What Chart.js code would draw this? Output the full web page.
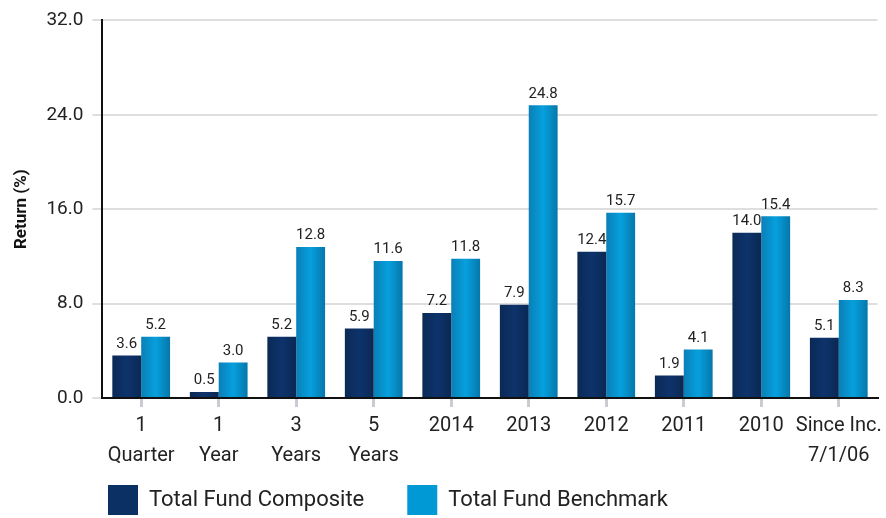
<!DOCTYPE html>
<html>
<head>
<meta charset="utf-8">
<script src="https://cdn.jsdelivr.net/npm/chart.js@4"></script>
<style>
  body { margin: 0; background: #fff; }
  #wrap { width: 886px; height: 518px; }
</style>
</head>
<body>
<div id="wrap"><canvas id="barChart"></canvas></div>
<script>
// categories + series
var labels = [['1','Quarter'], ['1','Year'], ['3','Years'], ['5','Years'], '2014', '2013', '2012', '2011', '2010', ['Since Inc.','7/1/06']]
var composite = [3.6, 0.5, 5.2, 5.9, 7.2, 7.9, 12.4, 1.9, 14.0, 5.1]
var benchmark = [5.2, 3.0, 12.8, 11.6, 11.8, 24.8, 15.7, 4.1, 15.4, 8.3]
var yTicks = [0, 8, 16, 24, 32]

var solid = ["#0b3164", "#0099d6"]
var stops = [["#0a2955", "#0e336c", "#0a2853"], ["#0a7fb6", "#06a0de", "#0677aa"]]

// each bar gets its own horizontal gradient
var barShade = {
  id: 'barShade',
  beforeDatasetsDraw: function(chart) {
    var ctx = chart.ctx
    chart.data.datasets.forEach(function(ds, di) {
      chart.getDatasetMeta(di).data.forEach(function(el) {
        var x0 = el.x - el.width / 2, x1 = el.x + el.width / 2
        var g = ctx.createLinearGradient(x0, 0, x1, 0)
        g.addColorStop(0, stops[di][0])
        g.addColorStop(0.5, stops[di][1])
        g.addColorStop(1, stops[di][2])
        el.options = Object.assign({}, el.options, { backgroundColor: g })
      })
    })
  }
}

// value labels over the bars
var barValues = {
  id: 'barValues',
  afterDatasetsDraw: function(chart) {
    var ctx = chart.ctx
    ctx.save()
    ctx.font = '15px Roboto'
    ctx.fillStyle = '#222'
    ctx.textAlign = 'center'
    ctx.textBaseline = 'bottom'
    chart.data.datasets.forEach(function(ds, di) {
      chart.getDatasetMeta(di).data.forEach(function(el, i) {
        ctx.fillText(ds.data[i].toFixed(1), el.x, el.y - 4)
      })
    })
    ctx.restore()
  }
}

// legend: keep wide gaps between items but a short box, shifted right
var legendPlace = {
  id: 'legendPlace',
  afterInit: function(chart) {
    var leg = chart.legend, fit = leg.fit
    leg.fit = function() { fit.call(this); this.height = 41 }
  },
  afterLayout: function(chart) {
    var leg = chart.legend, pad = leg.options.labels.padding
    leg.left = 108 - pad
    leg.top = 485 - pad
  }
}

var ctxB = document.getElementById("barChart").getContext('2d');
var myBarChart = new Chart(ctxB, {
  type: 'bar',
  data: {
    labels: labels,
    datasets: [
      { label: 'Total Fund Composite', data: composite, backgroundColor: function() { return solid[0] }, borderWidth: 0 },
      { label: 'Total Fund Benchmark', data: benchmark, backgroundColor: function() { return solid[1] }, borderWidth: 0 }
    ]
  },
  plugins: [barShade, barValues, legendPlace],
  options: {
    responsive: true,
    maintainAspectRatio: false,
    animation: false,
    layout: { padding: { top: 7, right: 4, left: 8, bottom: 2 } },
    datasets: { bar: { categoryPercentage: 0.745, barPercentage: 1 } },
    plugins: {
      tooltip: { enabled: false },
      legend: {
        position: 'bottom',
        align: 'start',
        labels: {
          boxWidth: 30, boxHeight: 30, padding: 43,
          color: '#222',
          font: { family: 'Roboto', size: 22 }
        }
      }
    },
    scales: {
      x: {
        grid: { display: true, drawOnChartArea: false, offset: false, color: '#c9cdd1', lineWidth: 3, tickLength: 9 },
        border: { color: '#111', width: 2 },
        ticks: { color: '#222', font: { family: 'Roboto', size: 20, lineHeight: 1.5 }, maxRotation: 0, autoSkip: false, padding: 4 }
      },
      y: {
        min: yTicks[0], max: yTicks[yTicks.length - 1],
        afterBuildTicks: function(axis) { axis.ticks = yTicks.map(function(v) { return { value: v } }) },
        grid: { color: '#dedede', lineWidth: 2, tickLength: 10 },
        border: { color: '#111', width: 2 },
        ticks: { color: '#222', font: { family: 'Roboto', size: 19 }, padding: 9, callback: function(v) { return v.toFixed(1) } },
        title: { display: true, text: 'Return (%)', color: '#111', font: { family: 'Roboto', size: 17, weight: 'bold' }, padding: { bottom: 5 } }
      }
    }
  }
});
</script>
</body>
</html>
